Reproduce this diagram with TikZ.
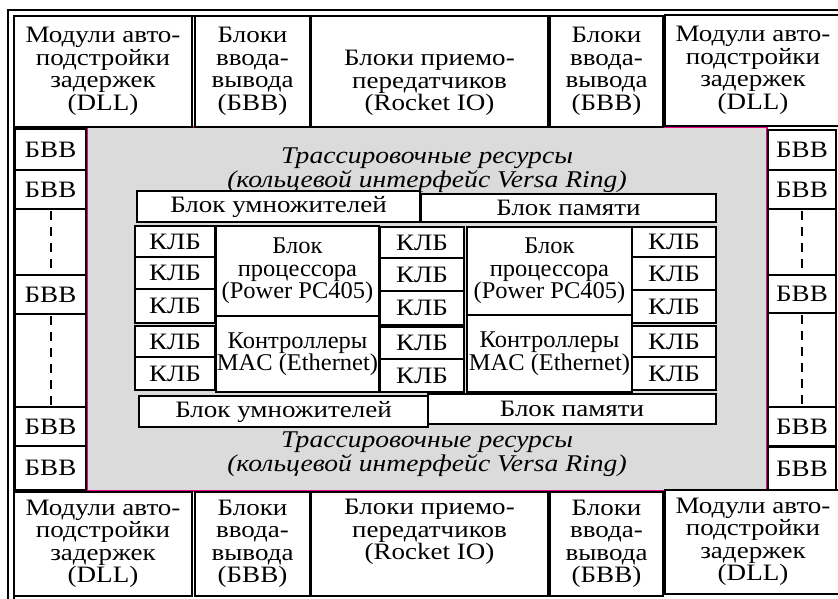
\documentclass[tikz,border=0pt]{standalone}
\usepackage{fontspec}
\setmainfont{Liberation Serif}[FakeStretch=1.15]
\newfontfamily\cpufont{Liberation Serif}[FakeStretch=1.02]

\tikzset{
    blk/.style={rectangle, draw, fill=white, line width=2pt, inner sep=0pt, align=center, font=\fontsize{23.5}{22.5}\selectfont},
    cpublk/.style={blk, font=\cpufont\fontsize{24}{22.5}\selectfont},
    gapbox/.style={rectangle, draw, fill=white, line width=2pt, inner sep=0pt},
    dots/.style={line width=2pt, dash pattern=on 9pt off 7pt, shorten <=3pt, shorten >=3pt},
    ringtext/.style={align=center, font=\fontsize{24}{24}\selectfont\itshape}
}

\begin{document}
\begin{tikzpicture}[x=1pt,y=-1pt]
    \useasboundingbox (0,0) rectangle (838,599);
    % outer frame
    \draw[line width=1.5pt] (8,599) |- (838,10);
    \draw[line width=2.5pt] (14,599) |- (838,16);

    % routing area
    \node[rectangle, draw=magenta, fill=black!14, line width=1.5pt, minimum width=680pt, minimum height=364pt] (ring) at (427,309) {};
    \node[ringtext] (ringT) at (427,170) {Трассировочные ресурсы\\(кольцевой интерфейс Versa Ring)};
    \node[ringtext] (ringB) at (427,454) {Трассировочные ресурсы\\(кольцевой интерфейс Versa Ring)};

    % top row
    \node[blk, minimum width=178pt, minimum height=111pt] (dllTL) at (103,71.5) {Модули авто-\\подстройки\\задержек\\(DLL)};
    \node[blk, minimum width=115pt, minimum height=111pt] (bvvTL) at (252.5,71.5) {Блоки\\ввода-\\вывода\\(БВВ)};
    \node[blk, minimum width=237pt, minimum height=111pt] (rioT) at (429.5,71.5) {\strut\\Блоки приемо-\\передатчиков\\(Rocket IO)};
    \node[blk, minimum width=113pt, minimum height=111pt] (bvvTR) at (606.5,71.5) {Блоки\\ввода-\\вывода\\(БВВ)};
    \node[blk, minimum width=176pt, minimum height=111pt] (dllTR) at (753,70.5) {Модули авто-\\подстройки\\задержек\\(DLL)};

    % bottom row
    \node[blk, minimum width=178pt, minimum height=104pt] (dllBL) at (103,544) {Модули авто-\\подстройки\\задержек\\(DLL)};
    \node[blk, minimum width=115pt, minimum height=104pt] (bvvBL) at (252.5,544) {Блоки\\ввода-\\вывода\\(БВВ)};
    \node[blk, minimum width=237pt, minimum height=104pt] (rioB) at (429.5,544) {Блоки приемо-\\передатчиков\\(Rocket IO)\\\strut};
    \node[blk, minimum width=113pt, minimum height=104pt] (bvvBR) at (606.5,544) {Блоки\\ввода-\\вывода\\(БВВ)};
    \node[blk, minimum width=176pt, minimum height=104pt] (dllBR) at (753,542) {Модули авто-\\подстройки\\задержек\\(DLL)};

    % left column
    \node[blk, minimum width=71pt, minimum height=41pt] (bvvL1) at (50.5,149.5) {БВВ};
    \node[blk, minimum width=71pt, minimum height=39pt] (bvvL2) at (50.5,189.5) {БВВ};
    \node[gapbox, minimum width=71pt, minimum height=66pt] (gapL1) at (50.5,242) {};
    \node[blk, minimum width=71pt, minimum height=39pt] (bvvL3) at (50.5,294.5) {БВВ};
    \node[gapbox, minimum width=71pt, minimum height=93pt] (gapL2) at (50.5,360.5) {};
    \node[blk, minimum width=71pt, minimum height=39pt] (bvvL4) at (50.5,426.5) {БВВ};
    \node[blk, minimum width=71pt, minimum height=44pt] (bvvL5) at (50.5,468) {БВВ};
    \draw[dots] (gapL1.north) -- (gapL1.south);
    \draw[dots] (gapL2.north) -- (gapL2.south);

    % right column
    \node[blk, minimum width=68pt, minimum height=40pt] (bvvR1) at (802,150) {БВВ};
    \node[blk, minimum width=68pt, minimum height=39pt] (bvvR2) at (802,189.5) {БВВ};
    \node[gapbox, minimum width=68pt, minimum height=66pt] (gapR1) at (802,242) {};
    \node[blk, minimum width=68pt, minimum height=38pt] (bvvR3) at (802,294) {БВВ};
    \node[gapbox, minimum width=68pt, minimum height=94pt] (gapR2) at (802,360) {};
    \node[blk, minimum width=68pt, minimum height=39pt] (bvvR4) at (802,426.5) {БВВ};
    \node[blk, minimum width=68pt, minimum height=43pt] (bvvR5) at (802,468.5) {БВВ};
    \draw[dots] (gapR1.north) -- (gapR1.south);
    \draw[dots] (gapR2.north) -- (gapR2.south);

    % multipliers and memory
    \node[blk, minimum width=283pt, minimum height=31pt] (mulT) at (278.5,206.5) {Блок умножителей};
    \node[blk, minimum width=295pt, minimum height=28pt] (memT) at (568.5,208) {Блок памяти};
    \node[blk, minimum width=289pt, minimum height=31pt] (mulB) at (283.5,411.5) {Блок умножителей};
    \node[blk, minimum width=288pt, minimum height=30pt] (memB) at (572,409) {Блок памяти};

    % left CLB column
    \node[blk, minimum width=80pt, minimum height=31pt] (klbL1) at (175,241.5) {КЛБ};
    \node[blk, minimum width=80pt, minimum height=32pt] (klbL2) at (175,273) {КЛБ};
    \node[blk, minimum width=80pt, minimum height=34pt] (klbL3) at (175,306) {КЛБ};
    \node[blk, minimum width=80pt, minimum height=31pt] (klbL4) at (175,341.5) {КЛБ};
    \node[blk, minimum width=80pt, minimum height=33pt] (klbL5) at (175,373.5) {КЛБ};

    % left processor
    \node[cpublk, minimum width=163pt, minimum height=90pt] (cpuL) at (297.5,271) {Блок\\процессора\\(Power PC405)};
    \node[cpublk, minimum width=163pt, minimum height=76pt] (macL) at (297.5,354) {Контроллеры\\MAC (Ethernet)};

    % middle CLB column
    \node[blk, minimum width=84pt, minimum height=31pt] (klbM1) at (422,242.5) {КЛБ};
    \node[blk, minimum width=84pt, minimum height=33pt] (klbM2) at (422,274.5) {КЛБ};
    \node[blk, minimum width=84pt, minimum height=34pt] (klbM3) at (422,308) {КЛБ};
    \node[blk, minimum width=84pt, minimum height=32pt] (klbM4) at (422,343) {КЛБ};
    \node[blk, minimum width=84pt, minimum height=33pt] (klbM5) at (422,375.5) {КЛБ};

    % right processor
    \node[cpublk, minimum width=165pt, minimum height=88pt] (cpuR) at (549.5,271) {Блок\\процессора\\(Power PC405)};
    \node[cpublk, minimum width=165pt, minimum height=77pt] (macR) at (549.5,353.5) {Контроллеры\\MAC (Ethernet)};

    % right CLB column
    \node[blk, minimum width=84pt, minimum height=30pt] (klbR1) at (674,242) {КЛБ};
    \node[blk, minimum width=84pt, minimum height=33pt] (klbR2) at (674,273.5) {КЛБ};
    \node[blk, minimum width=84pt, minimum height=33pt] (klbR3) at (674,306.5) {КЛБ};
    \node[blk, minimum width=84pt, minimum height=31pt] (klbR4) at (674,341.5) {КЛБ};
    \node[blk, minimum width=84pt, minimum height=33pt] (klbR5) at (674,373.5) {КЛБ};
\end{tikzpicture}
\end{document}
